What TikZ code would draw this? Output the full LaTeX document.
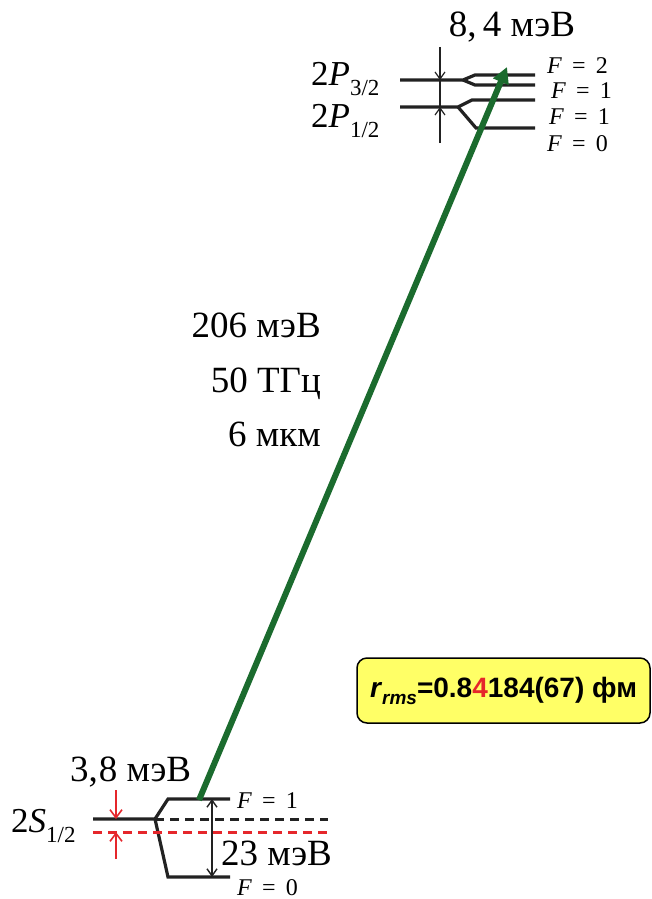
\documentclass[tikz,border=0pt]{standalone}
\usepackage{fontspec}
\setmainfont{Liberation Serif}
\newfontfamily\boxfont{Liberation Sans}
\usetikzlibrary{arrows.meta,positioning}
\definecolor{lvlgreen}{HTML}{1B6B2E}
\definecolor{lvlred}{HTML}{E5262B}
\definecolor{boxyellow}{HTML}{FFFF66}
\definecolor{lvlblack}{HTML}{222222}
\newcommand{\Flab}[1]{\textit{F}\hspace{0.42em}=\hspace{0.42em}#1}
\newcommand{\Term}[3]{#1\textit{#2}\raisebox{-0.3em}{\fontsize{23}{23}\selectfont #3}}
\tikzset{
  level/.style={line width=3.2pt,draw=lvlblack},
  hfslevel/.style={line width=3pt,draw=lvlblack,dash pattern=on 9pt off 6pt},
  redlevel/.style={line width=3pt,draw=lvlred,dash pattern=on 9pt off 6pt},
  gap/.style={-{Straight Barb[length=7pt,width=10pt]},line width=1.2pt,draw=lvlblack},
  redgap/.style={-{Straight Barb[length=8pt,width=12pt]},line width=1.6pt,draw=lvlred},
  span/.style={{Straight Barb[length=7pt,width=10pt]}-{Straight Barb[length=7pt,width=10pt]},line width=1.4pt,draw=lvlblack},
  transition/.style={-{Triangle[length=16pt,width=16pt]},line width=6pt,draw=lvlgreen},
  biglabel/.style={font=\fontsize{37}{40}\selectfont,inner sep=0pt},
  termlabel/.style={font=\fontsize{35}{38}\selectfont,inner sep=0pt},
  flabel/.style={font=\fontsize{24}{25}\selectfont,inner sep=0pt},
  radiusbox/.style={draw=black,line width=1.5pt,rounded corners=10pt,fill=boxyellow,
                    minimum width=293pt,minimum height=65pt,font=\boxfont\bfseries\fontsize{28}{30}\selectfont}
}
\begin{document}
\begin{tikzpicture}[x=1pt,y=-1pt]
    \useasboundingbox (0,0) rectangle (651,899);

    % 2P levels
    \coordinate (p32L) at (400,80);
    \coordinate (p32S) at (463,80);
    \coordinate (p32a) at (475,75);
    \coordinate (p32aR) at (535,75);
    \coordinate (p32b) at (475,85);
    \coordinate (p32bR) at (535,85);
    \coordinate (p12L) at (400,107);
    \coordinate (p12S) at (458,107);
    \coordinate (p12a) at (472,100);
    \coordinate (p12aR) at (535,100);
    \coordinate (p12b) at (476,128);
    \coordinate (p12bR) at (535,128);
    \draw[level] (p32L) -- (p32S) -- (p32a) -- (p32aR);
    \draw[level] (p32S) -- (p32b) -- (p32bR);
    \draw[level] (p12L) -- (p12S) -- (p12a) -- (p12aR);
    \draw[level] (p12S) -- (p12b) -- (p12bR);

    % fine structure gap
    \coordinate (fsTop) at (440,47);
    \coordinate (fsBot) at (440,143);
    \coordinate (fsUp) at (440,80);
    \coordinate (fsDn) at (440,107);
    \draw[line width=1.2pt,draw=lvlblack] (fsUp) -- (fsDn);
    \draw[gap] (fsTop) -- (fsUp);
    \draw[gap] (fsBot) -- (fsDn);

    \node[biglabel,anchor=base] (fsval) at (512,37) {8,\,4 мэВ};
    \node[termlabel,anchor=base west] (p32lab) at (311,85) {\Term{2}{P}{3/2}};
    \node[termlabel,anchor=base west] (p12lab) at (311,127) {\Term{2}{P}{1/2}};
    \node[flabel,anchor=base west] (f2) at (547,74) {\Flab{2}};
    \node[flabel,anchor=base west] (f1a) at (551,98) {\Flab{1}};
    \node[flabel,anchor=base west] (f1b) at (549,124) {\Flab{1}};
    \node[flabel,anchor=base west] (f0a) at (547,151) {\Flab{0}};

    % 2S levels
    \coordinate (s12L) at (93,819);
    \coordinate (s12S) at (155,819);
    \coordinate (s12R) at (328,819);
    \coordinate (s1a) at (168,799);
    \coordinate (s1aR) at (230,799);
    \coordinate (s0a) at (168,877);
    \coordinate (s0aR) at (230,877);
    \coordinate (shL) at (93,832);
    \coordinate (shR) at (328,832);
    \draw[level] (s12L) -- (s12S) -- (s1a) -- (s1aR);
    \draw[level] (s12S) -- (s0a) -- (s0aR);
    \draw[hfslevel] (s12S) -- (s12R);
    \draw[redlevel] (shL) -- (shR);

    % Lamb shift gap (red)
    \coordinate (lsTop) at (116,790);
    \coordinate (lsBot) at (116,859);
    \coordinate (lsUp) at (116,819);
    \coordinate (lsDn) at (116,832);
    \draw[redgap] (lsTop) -- (lsUp);
    \draw[redgap] (lsBot) -- (lsDn);

    % hyperfine splitting
    \coordinate (hfTop) at (212,799);
    \coordinate (hfBot) at (212,877);
    \draw[span] (hfTop) -- (hfBot);

    \node[biglabel,anchor=base west] (lsval) at (70,781) {3,\kern1pt8 мэВ};
    \node[termlabel,anchor=base west] (s12lab) at (11,832) {\Term{2}{S}{1/2}};
    \node[biglabel,anchor=base west] (hfval) at (221,865) {23 мэВ};
    \node[flabel,anchor=base west] (f1c) at (237,808) {\Flab{1}};
    \node[flabel,anchor=base west] (f0b) at (237,895) {\Flab{0}};

    % transition
    \coordinate (trStart) at (199,800);
    \coordinate (trEnd) at (507,67);
    \draw[transition] (trStart) -- (trEnd);

    \node[biglabel,anchor=base east] (energy) at (321,337) {206 мэВ};
    \node[biglabel,anchor=base east] (freq) at (321,392) {50 ТГц};
    \node[biglabel,anchor=base east] (wave) at (321,446) {6 мкм};

    \node[radiusbox] (radius) at (503.5,690.5)
      {\textit{r}\raisebox{-0.25em}{\fontsize{19}{19}\selectfont\textit{rms}}=0.8\textcolor{lvlred}{4}184(67) фм};
\end{tikzpicture}
\end{document}
